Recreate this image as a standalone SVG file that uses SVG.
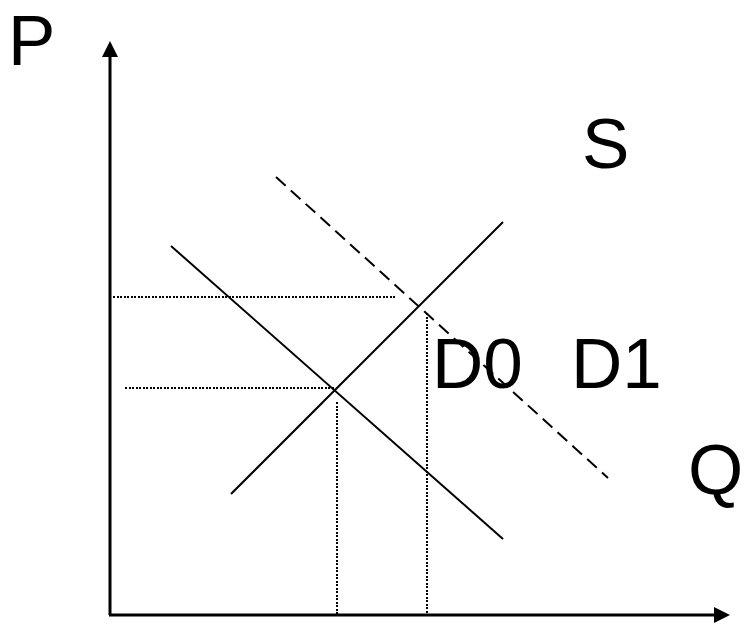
<svg xmlns="http://www.w3.org/2000/svg" width="745" height="625" viewBox="0 0 745 625">
<style>
.lbl{font-family:"Liberation Sans",Arial,sans-serif;font-size:71px;fill:#000}
.axis{stroke:#000;stroke-width:3;fill:none}
.curve{stroke:#000;stroke-width:2;fill:none}
.dash{stroke:#000;stroke-width:2;fill:none;stroke-dasharray:13 7}
.dot{stroke:#000;stroke-width:2;fill:none;stroke-dasharray:2 1.5;shape-rendering:crispEdges}
</style>
<defs>
<marker id="arr" markerUnits="userSpaceOnUse" markerWidth="16" markerHeight="16" refX="0" refY="8" orient="auto" viewBox="0 0 16 16">
<path d="M0,0 L16,8 L0,16 z" fill="#000"/>
</marker>
</defs>
<rect width="745" height="625" fill="#fff"/>
<g id="axes">
<line class="axis" x1="110" y1="615" x2="110" y2="57" marker-end="url(#arr)"/>
<line class="axis" x1="109" y1="615" x2="714" y2="615" marker-end="url(#arr)"/>
</g>
<g id="guides">
<line class="dot" x1="113" y1="297" x2="397" y2="297"/>
<line class="dot" x1="125" y1="388" x2="334" y2="388"/>
<line class="dot" x1="337" y1="402" x2="337" y2="614"/>
<line class="dot" x1="427" y1="313" x2="427" y2="614"/>
</g>
<g id="curves">
<line id="S" class="curve" x1="231" y1="494" x2="503" y2="222"/>
<line id="D0" class="curve" x1="171" y1="246" x2="503" y2="539"/>
<line id="D1" class="dash" x1="276" y1="177" x2="608" y2="478"/>
</g>
<g id="labels">
<text class="lbl" x="8" y="65">P</text>
<text class="lbl" x="582" y="168">S</text>
<text class="lbl" x="432" y="388">D0</text>
<text class="lbl" x="571" y="388">D1</text>
<text class="lbl" x="688" y="494">Q</text>
</g>
</svg>
